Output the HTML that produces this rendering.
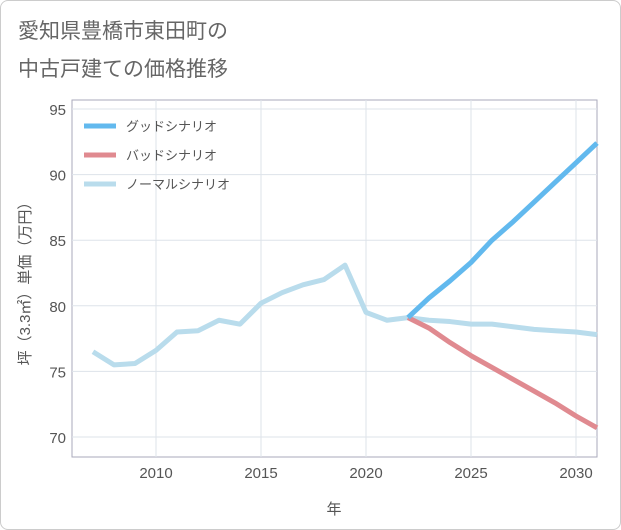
<!DOCTYPE html>
<html><head><meta charset="utf-8"><style>
body{margin:0;background:#fff;font-family:"Liberation Sans","Noto Sans CJK JP",sans-serif;}
#wrap{position:relative;width:619px;height:528px;border:1px solid #ccc;border-radius:8px;background:#fff;}
</style></head><body>
<div id="wrap">
<svg id="chart" width="621" height="530" style="position:absolute;left:-1px;top:-1px">
<text x="18" y="38" font-size="21" fill="#666">愛知県豊橋市東田町の</text>
<text x="18" y="76" font-size="21" fill="#666">中古戸建ての価格推移</text>
<rect x="72" y="100" width="525" height="357" fill="none" stroke="#aab"/>
<g id="grid"></g><g id="series"></g><g id="legend"></g>
<text x="334" y="514" font-size="15" fill="#555" text-anchor="middle">年</text>
<text transform="translate(30,280) rotate(-90)" font-size="15" fill="#555" text-anchor="middle">坪（3.3㎡）単価（万円）</text>
</svg></div>
<script>
const years=[2007,2008,2009,2010,2011,2012,2013,2014,2015,2016,2017,2018,2019,2020,2021,2022,2023,2024,2025,2026,2027,2028,2029,2030,2031];
const normalVals=[76.5,75.5,75.6,76.6,78.0,78.1,78.9,78.6,80.2,81.0,81.6,82.0,83.1,79.5,78.9,79.1,78.9,78.8,78.6,78.6,78.4,78.2,78.1,78.0,77.8];
const futureYears=[2022,2023,2024,2025,2026,2027,2028,2029,2030,2031];
const goodVals=[79.1,80.6,81.9,83.3,85.0,86.4,87.9,89.4,90.9,92.4];
const badVals=[79.1,78.3,77.2,76.2,75.3,74.4,73.5,72.6,71.6,70.7];
const xTicks=[2010,2015,2020,2025,2030];
const yTicks=[70,75,80,85,90,95];
const NS="http://www.w3.org/2000/svg";
const X=y=>156+(y-2010)*21;
const Y=v=>437-(v-70)*13.12;
function mk(tag,attrs,parent){const e=document.createElementNS(NS,tag);for(const k in attrs)e.setAttribute(k,attrs[k]);parent.appendChild(e);return e;}
const grid=document.getElementById('grid');
xTicks.forEach(t=>{
 const l=mk('line',{x1:X(t),x2:X(t),y1:100,y2:457,stroke:'#dde3ea'},grid);
 
 
 const tx=mk('text',{x:X(t),y:478,'font-size':15,fill:'#555','text-anchor':'middle'},grid);tx.textContent=t;
 
 
});
yTicks.forEach(t=>{
 const l=mk('line',{x1:72,x2:597,y1:Y(t),y2:Y(t),stroke:'#dde3ea'},grid);
 
 
 const tx=mk('text',{x:66,y:Y(t)+6,'font-size':15,fill:'#555','text-anchor':'end'},grid);tx.textContent=t;
 
 
});
const ser=document.getElementById('series');
function line(xs,vs,c,name){
 const p=mk('polyline',{points:xs.map((y,i)=>X(y)+','+Y(vs[i])).join(' '),fill:'none',stroke:c,'stroke-width':5,'stroke-linejoin':'round'},ser);
 
 
}
line(years,normalVals,'#b9dcec','normal-scenario-line');
line(futureYears,badVals,'#e08a90','bad-scenario-line');
line(futureYears,goodVals,'#62b9ee','good-scenario-line');
const lg=document.getElementById('legend');
[['グッドシナリオ','#62b9ee','legend-good'],['バッドシナリオ','#e08a90','legend-bad'],['ノーマルシナリオ','#b9dcec','legend-normal']].forEach((d,i)=>{
 const g=mk('g',{},lg);
 
 
 const y=126+i*29;
 mk('line',{x1:84,x2:116,y1:y,y2:y,stroke:d[1],'stroke-width':5},g);
 const t=mk('text',{x:126,y:y+5,'font-size':13,fill:'#555'},g);t.textContent=d[0];
});
</script>
</body></html>
